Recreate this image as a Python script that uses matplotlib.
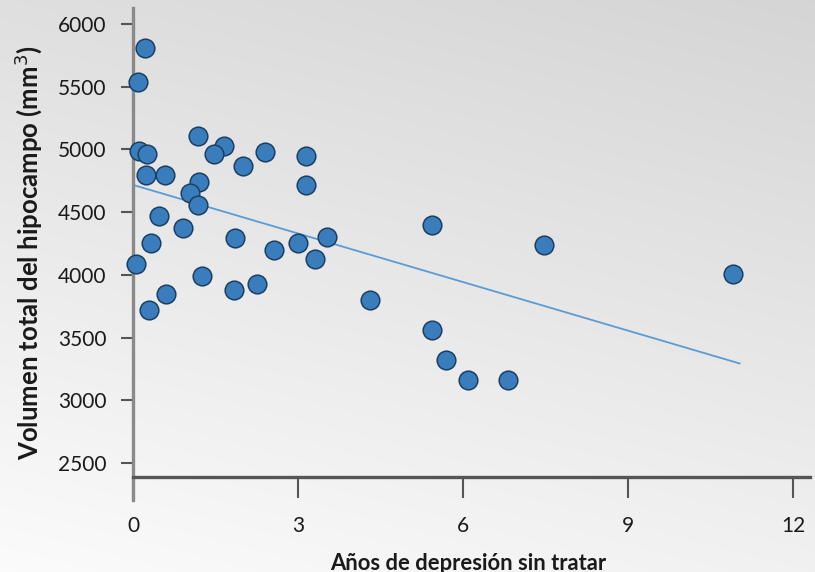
import numpy as np
import matplotlib
matplotlib.use('Agg')
import matplotlib.pyplot as plt

# years of untreated depression vs. total hippocampal volume (mm3)
anos = [0.22, 0.09, 1.18, 1.65, 1.47, 2.40, 3.14, 3.14, 2.00, 0.10, 0.25,
        0.24, 0.58, 1.20, 1.04, 1.18, 0.47, 0.90, 0.33, 1.85, 2.57, 2.99,
        3.52, 3.31, 0.05, 1.25, 1.83, 2.25, 0.60, 0.29, 4.30, 5.44, 7.46,
        10.90, 5.44, 5.68, 6.08, 6.82]
volumen = [5810, 5540, 5110, 5030, 4960, 4980, 4950, 4720, 4870, 4990, 4960,
           4800, 4800, 4740, 4650, 4560, 4470, 4370, 4250, 4290, 4200, 4250,
           4300, 4130, 4090, 3990, 3880, 3930, 3850, 3720, 3800, 4400, 4240,
           4010, 3560, 3320, 3160, 3160]

# regression line end points
ajuste_x = [0.04, 11.02]
ajuste_y = [4712, 3293]

xticks = [0, 3, 6, 9, 12]
yticks = [2500, 3000, 3500, 4000, 4500, 5000, 5500, 6000]

fig = plt.figure(figsize=(8.15, 5.72), dpi=100)

# light grey gradient background: darker at the top, almost white bottom left
bg = fig.add_axes([0, 0, 1, 1], zorder=-1)
gx, gy = np.meshgrid(np.linspace(0, 1, 200), np.linspace(0, 1, 200))
grey = 0.985 - 0.11 * (1 - gy) - 0.04 * gx
bg.imshow(np.dstack([grey, grey, grey]), aspect='auto', origin='upper')
bg.axis('off')

ax = fig.add_axes([133 / 815, 72 / 572, 677 / 815, 492 / 572])
ax.patch.set_visible(False)

ax.scatter(anos, volumen, s=180, color='#3a7dbd', edgecolors='#1a3f62',
           linewidths=1.1, zorder=3, clip_on=False)
ax.plot(ajuste_x, ajuste_y, color='#5b9bd5', lw=1.3, zorder=2)

ax.set_xlim(0, 12.3)
ax.set_ylim(2204, 6128)

for s in ['top', 'right']:
    ax.spines[s].set_visible(False)
ax.spines['bottom'].set_position(('data', 2388))
ax.spines['bottom'].set_color('#555555')
ax.spines['left'].set_color('#8a8a8a')
ax.spines['bottom'].set_linewidth(2.4)
ax.spines['left'].set_linewidth(2.4)

ax.set_xticks(xticks)
ax.set_yticks(yticks)
ax.tick_params(axis='x', direction='out', length=15, width=1.5, color='#555555',
               pad=13, labelsize=15, labelcolor='#1a1a1a')
ax.tick_params(axis='y', direction='out', length=9, width=1.5, color='#555555',
               pad=10, labelsize=15, labelcolor='#1a1a1a')
for lab in ax.get_xticklabels() + ax.get_yticklabels():
    lab.set_family('Lato')

fig.text(468 / 815, 1 - 563 / 572, 'Años de depresión sin tratar', ha='center', va='center',
         fontsize=15.8, fontweight='bold', family='Lato', color='#1a1a1a')
fig.text(28 / 815, 1 - 253 / 572, 'Volumen total del hipocampo (mm$^3$)', ha='center',
         va='center', rotation=90, fontsize=18.5, fontweight='bold', family='Lato',
         color='#1a1a1a')

fig.savefig('out.png', dpi=100)
